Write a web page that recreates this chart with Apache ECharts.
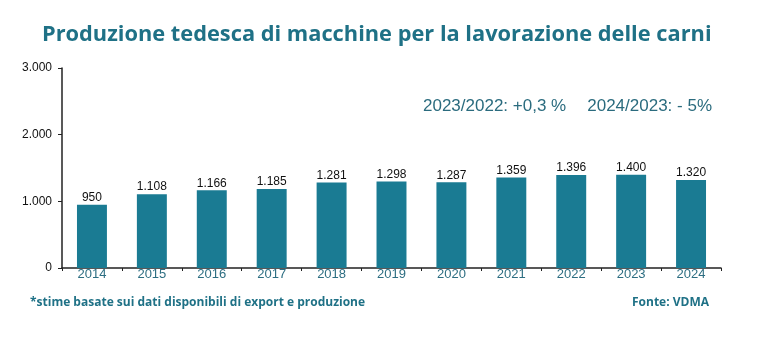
<!DOCTYPE html>
<html>
<head>
<meta charset="utf-8">
<script src="https://cdn.jsdelivr.net/npm/echarts@6/dist/echarts.min.js"></script>
<style>
  html, body { margin: 0; padding: 0; background: #fff; }
  #chart { width: 759px; height: 354px; }
</style>
</head>
<body>
<div id="chart"></div>
<script>
// dati
const anni = ['2014', '2015', '2016', '2017', '2018', '2019', '2020', '2021', '2022', '2023', '2024']
const produzione = [950, 1108, 1166, 1185, 1281, 1298, 1287, 1359, 1396, 1400, 1320]
const tickY = [0, 1000, 2000, 3000]

const teal = '#1a7b93'
const testoTeal = '#1f7186'

let fmt = (v) => String(v).replace(/\B(?=(\d{3})+(?!\d))/g, '.')

let mychart = echarts.init(document.getElementById('chart'))
let option = {
  animation: false,
  title: [
    {
      text: 'Produzione tedesca di macchine per la lavorazione delle carni',
      left: 42,
      top: 24,
      padding: 0,
      textStyle: { fontFamily: 'Open Sans', fontWeight: 'bold', fontSize: 21.8, color: testoTeal }
    },
    {
      text: '2023/2022: +0,3 %',
      left: 423,
      top: 98,
      padding: 0,
      textStyle: { fontFamily: 'Liberation Sans', fontWeight: 'normal', fontSize: 17, color: '#2a6b7e' }
    },
    {
      text: '2024/2023: - 5%',
      right: 47,
      top: 98,
      padding: 0,
      textStyle: { fontFamily: 'Liberation Sans', fontWeight: 'normal', fontSize: 17, color: '#2a6b7e' }
    },
    {
      text: '*stime basate sui dati disponibili di export e produzione',
      left: 30,
      top: 297,
      padding: 0,
      textStyle: { fontFamily: 'Open Sans', fontWeight: 'bold', fontSize: 12, color: testoTeal }
    },
    {
      text: 'Fonte: VDMA',
      right: 50,
      top: 297,
      padding: 0,
      textStyle: { fontFamily: 'Open Sans', fontWeight: 'bold', fontSize: 12, color: testoTeal }
    }
  ],
  grid: { left: 62, right: 38, top: 68, bottom: 86 },
  xAxis: {
    type: 'category',
    data: anni,
    axisLine: { lineStyle: { color: '#222', width: 1.5 } },
    axisTick: { show: true, length: 3, lineStyle: { color: '#222' } },
    axisLabel: { color: '#2d6e82', fontFamily: 'Liberation Sans', fontSize: 13, margin: 0, lineHeight: 13 }
  },
  yAxis: {
    type: 'value',
    min: 0,
    max: 3000,
    interval: 1000,
    splitLine: { show: false },
    axisLine: { show: true, lineStyle: { color: '#222', width: 1.5 } },
    axisTick: { show: true, length: 4, lineStyle: { color: '#222' } },
    axisLabel: {
      color: '#111',
      fontFamily: 'Liberation Sans',
      fontSize: 12,
      margin: 10,
      formatter: (v) => tickY.includes(v) ? fmt(v) : ''
    }
  },
  series: [
    {
      type: 'bar',
      data: produzione,
      barWidth: '50%',
      itemStyle: { color: teal },
      label: {
        show: true,
        position: 'top',
        distance: 1,
        color: '#111',
        fontFamily: 'Liberation Sans',
        fontSize: 12,
        formatter: (p) => fmt(p.value)
      }
    }
  ]
}
mychart.setOption(option)
</script>
</body>
</html>
